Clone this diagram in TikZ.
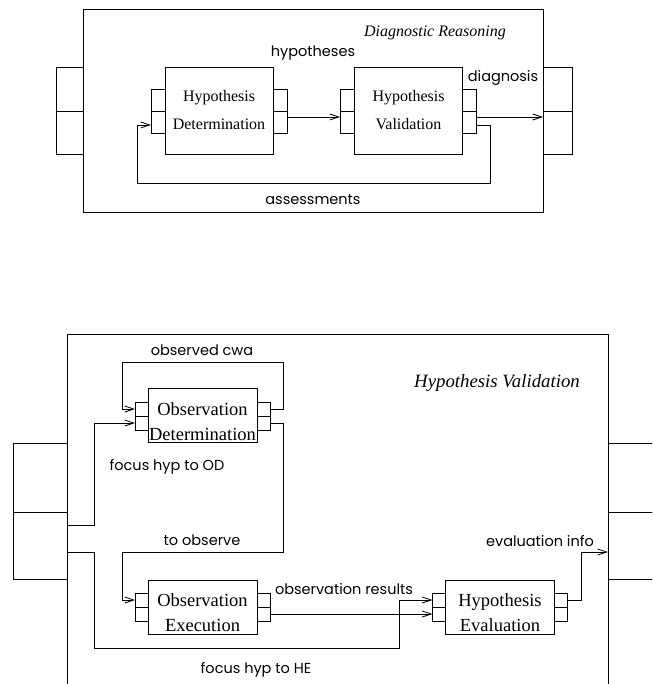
\documentclass[tikz,border=0pt]{standalone}
\usepackage{fontspec}
\setmainfont{Liberation Serif}
\newfontfamily\labfont{Poppins}
\usetikzlibrary{arrows.meta,positioning}

\begin{document}
\begin{tikzpicture}[x=1pt, y=-1pt, line width=0.8pt,
    >={Straight Barb[length=9pt,width=6pt]},
    frame/.style={rectangle, draw, inner sep=0pt, outer sep=0pt},
    modbig/.style={rectangle, draw, inner sep=0pt, outer sep=0pt,
                   minimum width=108pt, minimum height=87pt, align=center,
                   font=\fontsize{16}{28}\selectfont},
    modsmall/.style={rectangle, draw, inner sep=0pt, outer sep=0pt,
                     minimum width=109pt, minimum height=54pt},
    modtext/.style={align=center, inner sep=0pt,
                    font=\fontsize{18.5}{25}\selectfont},
    portbig/.style={rectangle, draw, inner sep=0pt, outer sep=0pt,
                    minimum width=14pt, minimum height=22pt},
    portsmall/.style={rectangle, draw, inner sep=0pt, outer sep=0pt,
                      minimum width=13pt, minimum height=14pt},
    flowlab/.style={font=\labfont\fontsize{14.5}{16}\selectfont},
    ttl/.style={font=\itshape\fontsize{16}{18}\selectfont}]

\clip (0,0) rectangle (652,684);

% ---------------- Diagnostic Reasoning (top) ----------------
\node[frame, minimum width=460pt, minimum height=203pt] (drframe) at (313,110.5) {};
\node[ttl] (drtitle) at (435,33) {Diagnostic Reasoning};

% outer ports
\node[frame, minimum width=27pt, minimum height=44pt] (drinA)  at (69.5,89) {};
\node[frame, minimum width=27pt, minimum height=43pt] (drinB)  at (69.5,132.5) {};
\node[frame, minimum width=29pt, minimum height=44pt] (droutA) at (557.5,89) {};
\node[frame, minimum width=29pt, minimum height=43pt] (droutB) at (557.5,132.5) {};

% modules
\node[modbig] (hd) at (219,110.5) {Hypothesis\\Determination};
\node[modbig] (hv) at (408.5,110.5) {Hypothesis\\Validation};

\node[portbig] (hdinA)  at (158,100) {};
\node[portbig] (hdinB)  at (158,122) {};
\node[portbig] (hdoutA) at (280,100) {};
\node[portbig] (hdoutB) at (280,122) {};
\node[portbig] (hvinA)  at (347,100) {};
\node[portbig] (hvinB)  at (347,122) {};
\node[portbig] (hvoutA) at (469.5,100) {};
\node[portbig] (hvoutB) at (469.5,122) {};

% flows
\draw[->] ([yshift=5pt]hdoutB.east) -- ([yshift=5pt]hvinB.west);
\draw[->] ([yshift=5pt]hvoutB.east) -- ([yshift=15.5pt]droutB.west);
\draw[->] ([yshift=-3pt]hvoutB.east) -| (490,183) -| (137,125)
  -- ([yshift=-3pt]hdinB.west);

\node[flowlab] at (313,53)  {hypotheses};
\node[flowlab] at (503,78)  {diagnosis};
\node[flowlab] at (313,200) {assessments};

% ---------------- Hypothesis Validation (bottom) ----------------
\node[frame, minimum width=541pt, minimum height=420pt] (hvframe) at (337.5,544) {};
\node[ttl, font=\itshape\fontsize{18.8}{20}\selectfont] (hvtitle) at (497,383)
  {Hypothesis Validation};

% outer ports
\node[frame, minimum width=54pt, minimum height=69pt] (vinA)  at (40,477.5) {};
\node[frame, minimum width=54pt, minimum height=67pt] (vinB)  at (40,545.5) {};
\node[frame, minimum width=62pt, minimum height=69pt] (voutA) at (639,477.5) {};
\node[frame, minimum width=62pt, minimum height=67pt] (voutB) at (639,545.5) {};

% modules
\node[modsmall] (od) at (202.5,415.5) {};
\node[modsmall] (oe) at (202.5,607)   {};
\node[modsmall] (he) at (500,607)     {};
\node[modtext] (odtext) at ([yshift=-6pt]od.center) {Observation\\Determination};
\node[modtext] (oetext) at ([yshift=-6pt]oe.center) {Observation\\Execution};
\node[modtext] (hetext) at ([yshift=-6pt]he.center) {Hypothesis\\Evaluation};

\node[portsmall] (odinA)  at (141.5,409) {};
\node[portsmall] (odinB)  at (141.5,423) {};
\node[portsmall] (odoutA) at (263.5,409) {};
\node[portsmall] (odoutB) at (263.5,423) {};
\node[portsmall] (oeinA)  at (141.5,600) {};
\node[portsmall] (oeinB)  at (141.5,614) {};
\node[portsmall] (oeoutA) at (263.5,600) {};
\node[portsmall] (oeoutB) at (263.5,614) {};
\node[portsmall] (heinA)  at (439,600)   {};
\node[portsmall] (heinB)  at (439,614)   {};
\node[portsmall] (heoutA) at (561,600)   {};
\node[portsmall] (heoutB) at (561,614)   {};

% flows
\draw[->] (odoutA.east) -| (283,362) -| (122,409) -- (odinA.west);
\draw[->] ([yshift=20.5pt]vinB.east) -| (94,423) -- (odinB.west);
\draw[->] (odoutB.east) -| (283,552) -| (122,600) -- (oeinA.west);
\draw[->] ([yshift=-6.5pt]vinB.east) -| (94,648) -| (399,600) -- (heinA.west);
\draw[->] (oeoutB.east) -- (heinB.west);
\draw[->] (heoutA.east) -| (581,552) -- ([yshift=-6.5pt]voutB.west);

\node[flowlab] at (202,350) {observed cwa};
\node[flowlab] at (167,467) {focus hyp to OD};
\node[flowlab] at (202,540) {to observe};
\node[flowlab] at (344,589) {observation results};
\node[flowlab] at (540,541) {evaluation info};
\node[flowlab] at (256,670) {focus hyp to HE};

\end{tikzpicture}
\end{document}
